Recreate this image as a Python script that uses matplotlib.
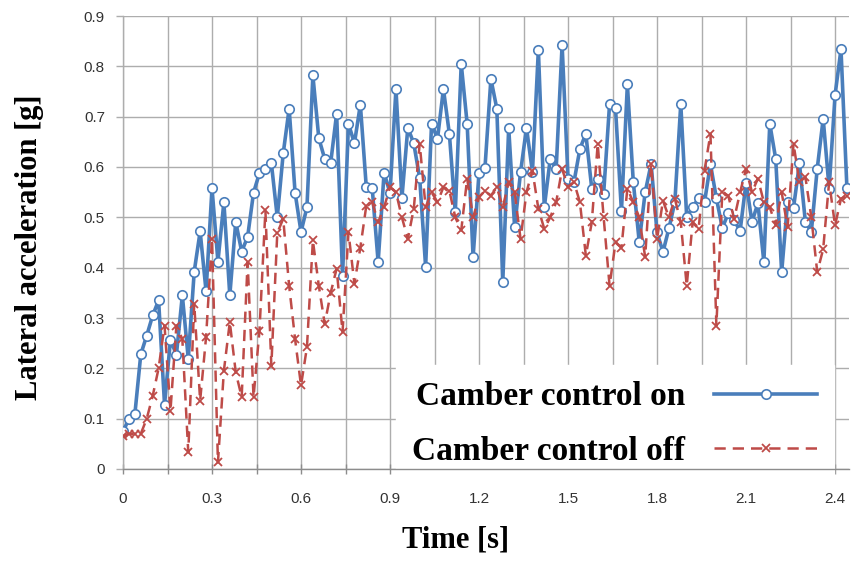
import numpy as np
import matplotlib
matplotlib.use("Agg")
import matplotlib.pyplot as plt
from matplotlib.ticker import MultipleLocator

# Lateral acceleration [g], sampled every 0.02 s
camber_on = [
    0.075, 0.099, 0.109, 0.228, 0.265, 0.305, 0.335, 0.128, 0.257, 0.227,
    0.345, 0.219, 0.392, 0.472, 0.353, 0.558, 0.412, 0.530, 0.345, 0.491,
    0.432, 0.461, 0.549, 0.588, 0.596, 0.608, 0.500, 0.627, 0.716, 0.549,
    0.471, 0.520, 0.782, 0.657, 0.616, 0.608, 0.706, 0.384, 0.686, 0.647,
    0.724, 0.560, 0.558, 0.411, 0.589, 0.548, 0.755, 0.538, 0.678, 0.647,
    0.578, 0.402, 0.686, 0.656, 0.755, 0.666, 0.510, 0.805, 0.686, 0.421,
    0.589, 0.598, 0.775, 0.716, 0.371, 0.678, 0.480, 0.590, 0.678, 0.590,
    0.833, 0.520, 0.616, 0.596, 0.843, 0.577, 0.570, 0.636, 0.666, 0.557,
    0.577, 0.547, 0.725, 0.717, 0.512, 0.764, 0.570, 0.451, 0.550, 0.606,
    0.470, 0.431, 0.478, 0.530, 0.725, 0.500, 0.520, 0.538, 0.530, 0.606,
    0.538, 0.479, 0.508, 0.494, 0.473, 0.569, 0.491, 0.528, 0.411, 0.686,
    0.616, 0.391, 0.530, 0.519, 0.607, 0.491, 0.471, 0.597, 0.696, 0.557,
    0.743, 0.834, 0.558,
]
camber_off = [
    0.065, 0.070, 0.070, 0.070, 0.100, 0.145, 0.200, 0.285, 0.116, 0.285,
    0.258, 0.033, 0.328, 0.136, 0.262, 0.457, 0.013, 0.195, 0.292, 0.192,
    0.143, 0.411, 0.143, 0.275, 0.514, 0.205, 0.469, 0.497, 0.364, 0.258,
    0.166, 0.242, 0.454, 0.364, 0.288, 0.350, 0.398, 0.272, 0.470, 0.368,
    0.440, 0.523, 0.530, 0.490, 0.520, 0.560, 0.550, 0.500, 0.457, 0.517,
    0.646, 0.520, 0.550, 0.530, 0.560, 0.553, 0.500, 0.474, 0.577, 0.500,
    0.540, 0.553, 0.543, 0.560, 0.520, 0.570, 0.550, 0.457, 0.550, 0.593,
    0.517, 0.477, 0.500, 0.530, 0.596, 0.560, 0.570, 0.530, 0.424, 0.490,
    0.646, 0.500, 0.364, 0.450, 0.440, 0.557, 0.530, 0.500, 0.421, 0.606,
    0.457, 0.533, 0.500, 0.537, 0.490, 0.364, 0.490, 0.477, 0.593, 0.666,
    0.285, 0.550, 0.543, 0.497, 0.550, 0.596, 0.550, 0.577, 0.530, 0.520,
    0.484, 0.550, 0.480, 0.646, 0.570, 0.580, 0.500, 0.391, 0.437, 0.570,
    0.484, 0.537, 0.543,
]
time_s = np.arange(len(camber_on)) * 0.02

x_ticks = [0, 0.3, 0.6, 0.9, 1.2, 1.5, 1.8, 2.1, 2.4]
x_tick_labels = ["0", "0.3", "0.6", "0.9", "1.2", "1.5", "1.8", "2.1", "2.4"]
y_ticks = [0, 0.1, 0.2, 0.3, 0.4, 0.5, 0.6, 0.7, 0.8, 0.9]
y_tick_labels = ["0", "0.1", "0.2", "0.3", "0.4", "0.5", "0.6", "0.7", "0.8", "0.9"]

BLUE = "#4A7EBB"
RED = "#BE4B48"
GRID = "#ADADAD"
serif_bold = dict(family="Liberation Serif", weight="bold")

fig = plt.figure(figsize=(8.52, 5.65), dpi=100)
ax = fig.add_axes([123 / 852, (565 - 469) / 565, 726 / 852, 453 / 565])

ax.plot(time_s, camber_on, color=BLUE, lw=2.6, marker="o", ms=6.8,
        mfc="white", mec=BLUE, mew=1.2, label="Camber control on", zorder=3)
ax.plot(time_s, camber_off, color=RED, lw=1.8, ls=(0, (4.5, 2.8)), marker="x",
        ms=6, mew=1.3, mec=RED, label="Camber control off", zorder=4)

ax.set_xlim(0, 2.447)
ax.set_ylim(0, 0.9)
ax.set_xticks(x_ticks)
ax.set_xticklabels(x_tick_labels)
ax.xaxis.set_minor_locator(MultipleLocator(0.15))
ax.set_yticks(y_ticks)
ax.set_yticklabels(y_tick_labels)

ax.grid(True, which="both", axis="x", color=GRID, lw=1.0, zorder=0)
ax.grid(True, which="major", axis="y", color=GRID, lw=1.0, zorder=0)
ax.set_axisbelow(True)

for side in ("top", "right"):
    ax.spines[side].set_visible(False)
ax.spines["left"].set_color(GRID)
ax.spines["bottom"].set_color("#8C8C8C")
ax.spines["left"].set_linewidth(1.0)
ax.spines["bottom"].set_linewidth(1.0)

ax.tick_params(axis="x", which="both", direction="inout", length=7,
               color="#8C8C8C", width=1.0)
ax.tick_params(axis="x", which="major", pad=13, labelsize=11,
               labelcolor="#333333")
ax.tick_params(axis="y", direction="out", length=5, color=GRID, width=1.0,
               pad=8, labelsize=11, labelcolor="#333333")
for lbl in ax.get_xticklabels() + ax.get_yticklabels():
    lbl.set_family("Liberation Sans")

fig.text(456 / 852, 1 - 540 / 565, "Time [s]", ha="center", va="center",
         fontsize=22, **serif_bold)
fig.text(30 / 852, 1 - 247 / 565, "Lateral acceleration [g]", ha="center",
         va="center", rotation=90, fontsize=22, **serif_bold)

leg = ax.legend(loc="lower right", bbox_to_anchor=(0.979, -0.031),
                markerfirst=False, frameon=True, fancybox=False,
                facecolor="white", edgecolor="white", framealpha=1.0,
                handlelength=3.1, handletextpad=0.87, labelspacing=0.70,
                borderpad=0.49, borderaxespad=0.0,
                prop=dict(family="Liberation Serif", weight="bold", size=24))
# legend box sits above the grid but below the bottom axis line
leg.set_zorder(2.4)

fig.savefig("out.png", dpi=100, facecolor="white")
